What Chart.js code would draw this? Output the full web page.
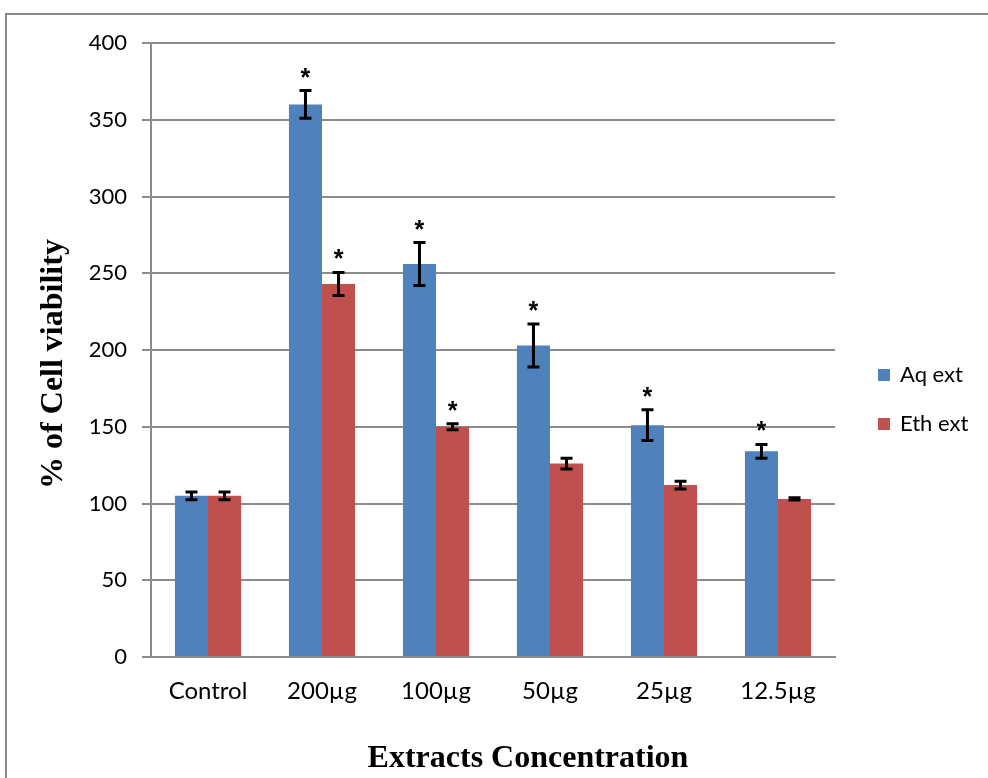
<!DOCTYPE html>
<html>
<head>
<meta charset="utf-8">
<script src="https://cdn.jsdelivr.net/npm/chart.js@4/dist/chart.umd.min.js"></script>
<style>
  body { margin: 0; background: #fff; }
  #wrap { position: relative; width: 988px; height: 778px; }
</style>
</head>
<body>
<div id="wrap"><canvas id="chartViabilidad" width="988" height="778"></canvas></div>
<script>
// datos
const categorias = ["Control", "200µg", "100µg", "50µg", "25µg", "12.5µg"];
const aqExt = [105, 360, 256, 203, 151, 134];
const ethExt = [105, 243, 150, 126, 112, 103];
const aqErr = [2.5, 9, 14, 14, 10, 4.5];
const ethErr = [2.5, 7.5, 2, 3.5, 2.5, 0.8];
const aqSig = [false, true, true, true, true, true];
const ethSig = [false, true, true, false, false, false];
const yTicks = [0, 50, 100, 150, 200, 250, 300, 350, 400];

const errores = [aqErr, ethErr];
const marcas = [aqSig, ethSig];

const ctx = document.getElementById("chartViabilidad");

// marco exterior gris + titulos de los ejes
const marcoPlugin = {
  id: "marco",
  beforeDraw(chart) {
    const c = chart.ctx;
    c.save();
    c.strokeStyle = "#888888";
    c.lineWidth = 2;
    c.beginPath();
    c.moveTo(6, 790);
    c.lineTo(6, 14);
    c.lineTo(1000, 14);
    c.stroke();
    c.restore();
  },
  afterDraw(chart) {
    const c = chart.ctx;
    c.save();
    c.fillStyle = "#000";
    c.font = "bold 32px 'Liberation Serif'";
    c.textAlign = "center";
    c.textBaseline = "alphabetic";
    c.fillText("Extracts Concentration", 528, 767);
    c.translate(62, 364);
    c.rotate(-Math.PI / 2);
    c.fillText("% of Cell viability", 0, 0);
    c.restore();
  },
};

// barras de error y asteriscos
const errorPlugin = {
  id: "errores",
  afterDatasetsDraw(chart) {
    const c = chart.ctx;
    const y = chart.scales.y;
    c.save();
    c.strokeStyle = "#000";
    c.lineWidth = 3;
    chart.data.datasets.forEach((ds, d) => {
      const meta = chart.getDatasetMeta(d);
      meta.data.forEach((bar, i) => {
        const v = ds.data[i];
        const e = errores[d][i];
        const yTop = y.getPixelForValue(v + e);
        const yBot = y.getPixelForValue(v - e);
        c.beginPath();
        c.moveTo(bar.x, yTop);
        c.lineTo(bar.x, yBot);
        c.moveTo(bar.x - 6, yTop);
        c.lineTo(bar.x + 6, yTop);
        c.moveTo(bar.x - 6, yBot);
        c.lineTo(bar.x + 6, yBot);
        c.stroke();
        if (marcas[d][i]) {
          c.fillStyle = "#000";
          c.font = "bold 25px 'Liberation Sans'";
          c.textAlign = "center";
          c.textBaseline = "alphabetic";
          c.fillText("*", bar.x, yTop - 5);
        }
      });
    });
    c.restore();
  },
};

// leyenda a la derecha
const leyendaPlugin = {
  id: "leyenda",
  afterDraw(chart) {
    const c = chart.ctx;
    const filas = [375, 424];
    c.save();
    chart.data.datasets.forEach((ds, d) => {
      c.fillStyle = ds.backgroundColor;
      c.fillRect(878, filas[d] - 6, 12, 12);
      c.fillStyle = "#000";
      c.font = "22px Lato";
      c.textAlign = "left";
      c.textBaseline = "middle";
      c.fillText(ds.label, 900, filas[d]);
    });
    c.restore();
  },
};

const myChart = new Chart(ctx, {
  type: "bar",
  data: {
    labels: categorias,
    datasets: [
      {
        label: "Aq ext",
        data: aqExt,
        backgroundColor: "#4F81BD",
      },
      {
        label: "Eth ext",
        data: ethExt,
        backgroundColor: "#C0504D",
      },
    ],
  },
  options: {
    responsive: false,
    animation: false,
    events: [],
    categoryPercentage: 0.58,
    barPercentage: 1,
    layout: {
      padding: { left: 0, top: 43, right: 153, bottom: 0 },
    },
    plugins: {
      legend: { display: false },
      tooltip: { enabled: false },
    },
    scales: {
      x: {
        grid: { display: false },
        border: { display: true, color: "#8c8c8c", width: 2 },
        ticks: {
          color: "#000",
          font: { family: "Lato", size: 24 },
          padding: 12,
        },
        afterFit(scale) {
          scale.height = 121;
        },
      },
      y: {
        min: 0,
        max: 400,
        afterBuildTicks(scale) {
          scale.ticks = yTicks.map((v) => ({ value: v }));
        },
        grid: {
          color: "#8c8c8c",
          lineWidth: 2,
          tickLength: 9,
        },
        border: { display: true, color: "#8c8c8c", width: 2 },
        ticks: {
          color: "#000",
          font: { family: "Lato", size: 22 },
          padding: 15,
        },
        afterFit(scale) {
          scale.width = 151;
        },
      },
    },
  },
  plugins: [marcoPlugin, errorPlugin, leyendaPlugin],
});
</script>
</body>
</html>
